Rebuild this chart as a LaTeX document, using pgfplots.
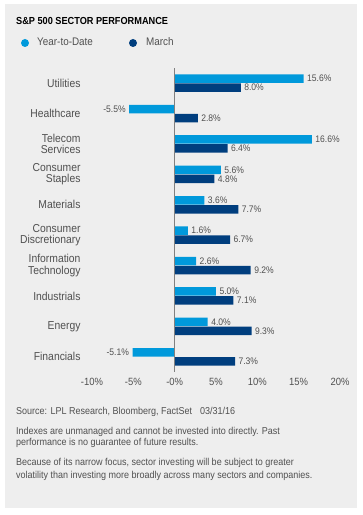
\documentclass[border=0pt]{standalone}
\usepackage{pgfplots}
\pgfplotsset{compat=1.18}
\usepackage{fontspec}
\setmainfont{Liberation Sans}[FakeStretch=0.9]
\definecolor{ytd}{HTML}{0099DB}
\definecolor{mar}{HTML}{003E7E}
\definecolor{panel}{HTML}{EEEEEE}
\definecolor{txt}{HTML}{505050}
\begin{document}
\begin{tikzpicture}[x=1pt,y=1pt]
\fill[white] (0,0) rectangle (363,515);
\fill[panel] (5,7) rectangle (357,511);
\tikzset{lbl/.style={anchor=west, inner sep=0pt, text height=7pt, text depth=2pt, text=txt}}
\node[lbl, text=black, font=\bfseries\fontsize{10.2}{12}\selectfont] at (16,493) {S\&P 500 SECTOR PERFORMANCE};
\fill[ytd] (25,472) circle (4);
\node[lbl, font=\fontsize{11}{12}\selectfont] at (37,472) {Year-to-Date};
\fill[mar] (133,472) circle (4);
\node[lbl, font=\fontsize{11}{12}\selectfont] at (146,472) {March};
\begin{axis}[
  at={(92pt,143pt)}, anchor=south west, scale only axis,
  width=248pt, height=304pt,
  xmin=-10, xmax=20, ymin=-0.5, ymax=9.5,
  xbar, bar width=8.5pt,
  axis line style={draw=none}, major tick length=0pt,
  xtick={-10,-5,0,5,10,15,20},
  xticklabels={-10\%,-5\%,-0\%,5\%,10\%,15\%,20\%},
  xticklabel style={font=\fontsize{10.5}{12}\selectfont, text=txt, yshift=-3pt},
  ytick={0,...,9},
  yticklabels={Financials, Energy, Industrials, {Information\\Technology}, {Consumer\\Discretionary}, Materials, {Consumer\\Staples}, {Telecom\\Services}, Healthcare, Utilities},
  yticklabel style={align=right, font=\fontsize{11.5}{11.5}\selectfont, text=txt, xshift=-8pt},
  point meta=x,
  /pgf/number format/assume math mode=true,
  nodes near coords={\pgfmathprintnumber[fixed,fixed zerofill,precision=1]{\pgfplotspointmeta}\%},
  every node near coord/.append style={font=\fontsize{9.5}{10}\selectfont, text=txt},
  clip=false,
]
\addplot[fill=ytd, draw=none, bar shift=4.5pt] coordinates {
(15.6,9) (-5.5,8) (16.6,7) (5.6,6) (3.6,5) (1.6,4) (2.6,3) (5.0,2) (4.0,1) (-5.1,0)};
\addplot[fill=mar, draw=none, bar shift=-4.5pt] coordinates {
(8.0,9) (2.8,8) (6.4,7) (4.8,6) (7.7,5) (6.7,4) (9.2,3) (7.1,2) (9.3,1) (7.3,0)};
\draw[gray, line width=1pt] (axis cs:0,-0.5) -- (axis cs:0,9.5);
\end{axis}
\tikzset{ft/.style={lbl, font=\fontsize{10}{11}\selectfont}}
\node[ft] at (16,103) {Source: LPL Research, Bloomberg, FactSet\hspace{0.8em}03/31/16};
\node[ft] at (16,83) {Indexes are unmanaged and cannot be invested into directly. Past};
\node[ft] at (16,71.5) {performance is no guarantee of future results.};
\node[ft] at (16,51.5) {Because of its narrow focus, sector investing will be subject to greater};
\node[ft] at (16,38.5) {volatility than investing more broadly across many sectors and companies.};
\end{tikzpicture}
\end{document}
